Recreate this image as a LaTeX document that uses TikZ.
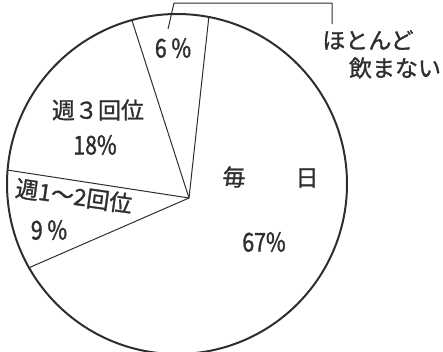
\documentclass[tikz,border=0pt]{standalone}
\usepackage{fontspec}
\setmainfont{Noto Sans CJK JP}[FakeBold=1.2]
\newfontfamily\numfont{Noto Sans CJK JP}[FakeStretch=0.82,FakeBold=1.2]
\usetikzlibrary{calc}
\definecolor{inkc}{HTML}{2E2E2E}
\begin{document}
\begin{tikzpicture}[x=1pt,y=-1pt,line join=round,
  rim/.style={draw=inkc,line width=2pt},
  spoke/.style={draw=inkc,line width=1pt},
  leader/.style={draw=inkc,line width=1pt},
  lbl/.style={text=inkc,inner sep=0pt,font=\fontsize{23}{26}\selectfont},
  pct/.style={text=inkc,inner sep=0pt,font=\numfont\fontsize{26}{28}\selectfont}]
\useasboundingbox (0,0) rectangle (443,351);
\clip (0,0) rectangle (443,351);
\coordinate (O) at (177,184);
\coordinate (C) at (189,198);
\coordinate (A) at ($(O)+(105.4:170pt)$);
\coordinate (B) at ($(O)+(79.2:170pt)$);
\coordinate (D) at ($(O)+(175.3:170pt)$);
\coordinate (E) at ($(O)+(209.5:170pt)$);
\draw[rim] (O) circle (170pt);
\draw[spoke] (C) -- (A);
\draw[spoke] (C) -- (B);
\draw[spoke] (C) -- (D);
\draw[spoke] (C) -- (E);
% labels
\node[lbl] (t1) at (368,40) {ほとんど};
\node[lbl] (t2) at (395,68) {飲まない};
\node[lbl] (w3) at (98,110) {週３回位};
\node[pct] (p18) at (95,145) {18\%};
\node[lbl,rotate=-8] (w12) at (74,196) {週1～2回位};
\node[pct] (p9) at (49,230) {9 \%};
\node[pct] (p6) at (173,48) {6 \%};
\node[lbl] (m1) at (234,177) {毎};
\node[lbl] (m2) at (307,178) {日};
\node[pct] (p67) at (264,242) {67\%};
% leader
\coordinate (L1) at (168,29);
\coordinate (L2) at (174,3);
\coordinate (L3) at (332,3);
\coordinate (L4) at (332,24);
\draw[leader] (L1) -- (L2) -- (L3) -- (L4);
\end{tikzpicture}
\end{document}
